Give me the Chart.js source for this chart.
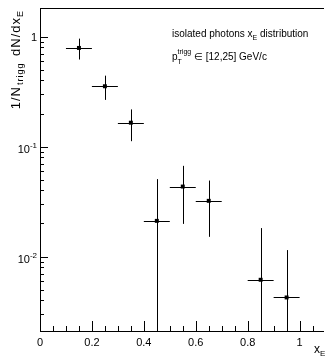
<!DOCTYPE html>
<html>
<head>
<meta charset="utf-8">
<script src="https://cdn.jsdelivr.net/npm/chart.js@4.4.1/dist/chart.umd.min.js"></script>
<style>
  html, body { margin: 0; padding: 0; background: #fff; overflow: hidden; }
  canvas { display: block; }
</style>
</head>
<body>
<canvas id="xeChart" width="328" height="357"></canvas>
<script>
// ---------- x_E distribution of isolated photons ---------- //
const xCenters   = [0.15, 0.25, 0.35, 0.45, 0.55, 0.65, 0.85, 0.95];
const xHalfWidth = [0.05, 0.05, 0.05, 0.05, 0.05, 0.05, 0.05, 0.05];
const yValues    = [0.79, 0.354, 0.165, 0.0211, 0.0433, 0.0321, 0.00614, 0.00424];
const yErrors    = [0.17, 0.088, 0.053, 0.0295, 0.0235, 0.017, 0.012, 0.0072];

const xTickValues = [0, 0.2, 0.4, 0.6, 0.8, 1];
const xTickLabels = ["0", "0.2", "0.4", "0.6", "0.8", "1"];
const xMinorStep  = 0.05;
const yTickValues = [1, 0.1, 0.01];
const yTickExpo   = ["", "-1", "-2"];

const X_MIN = 0, X_MAX = 1.094;
const Y_MIN = 0.0021, Y_MAX = 1.824;

const FONT = "'Liberation Sans', Arial, Helvetica, sans-serif";

// draws pieces of text one after the other; sub/sup shift the baseline
function drawRich(ctx, parts, x, y) {
  let cx = x;
  parts.forEach(p => {
    ctx.font = `${p.size}px ${FONT}`;
    ctx.fillText(p.t, cx, y + (p.dy || 0));
    cx += ctx.measureText(p.t).width + (p.gap || 0);
  });
  return cx - x;
}
function richWidth(ctx, parts) {
  let w = 0;
  parts.forEach(p => {
    ctx.font = `${p.size}px ${FONT}`;
    w += ctx.measureText(p.t).width + (p.gap || 0);
  });
  return w;
}

// ROOT style frame: axis lines, inward ticks, labels, titles, legend text
const rootFrame = {
  id: "rootFrame",
  beforeDatasetsDraw(chart) {
    const { ctx, chartArea: a, scales: { x, y } } = chart;
    ctx.save();
    ctx.strokeStyle = "#000";
    ctx.lineWidth = 1;
    ctx.beginPath();
    xCenters.forEach((xc, i) => {
      const px = Math.round(x.getPixelForValue(xc)) + 0.5;
      const py = Math.round(y.getPixelForValue(yValues[i])) + 0.5;
      const xl = x.getPixelForValue(xc - xHalfWidth[i]);
      const xr = x.getPixelForValue(xc + xHalfWidth[i]);
      const lo = yValues[i] - yErrors[i];
      const yTop = y.getPixelForValue(yValues[i] + yErrors[i]);
      const yBot = lo > Y_MIN ? y.getPixelForValue(lo) : a.bottom;
      ctx.moveTo(xl, py); ctx.lineTo(xr, py);
      ctx.moveTo(px, Math.max(yTop, a.top)); ctx.lineTo(px, yBot);
    });
    ctx.stroke();
    ctx.restore();
  },
  afterDraw(chart) {
    const { ctx, chartArea: a, scales: { x, y } } = chart;
    ctx.save();
    ctx.strokeStyle = "#000";
    ctx.fillStyle = "#000";
    ctx.lineWidth = 1;

    // frame: top, left axis, bottom axis
    ctx.beginPath();
    ctx.moveTo(a.left, a.top + 0.5); ctx.lineTo(a.right, a.top + 0.5);
    ctx.moveTo(a.left + 0.5, a.top); ctx.lineTo(a.left + 0.5, a.bottom);
    ctx.moveTo(a.left, a.bottom + 0.5); ctx.lineTo(a.right, a.bottom + 0.5);

    // x ticks (inward)
    for (let v = X_MIN; v <= X_MAX + 1e-9; v += xMinorStep) {
      const isMajor = xTickValues.some(t => Math.abs(t - v) < 1e-6);
      const px = Math.round(x.getPixelForValue(v)) + 0.5;
      ctx.moveTo(px, a.bottom); ctx.lineTo(px, a.bottom - (isMajor ? 10 : 5));
    }
    // y ticks (inward), decades long and 2..9 short
    for (let e = -3; e <= 0; e++) {
      for (let m = 1; m <= 9; m++) {
        const v = m * Math.pow(10, e);
        if (v < Y_MIN || v > Y_MAX) continue;
        const py = Math.round(y.getPixelForValue(v)) + 0.5;
        ctx.moveTo(a.left, py); ctx.lineTo(a.left + (m === 1 ? 8 : 4), py);
      }
    }
    ctx.stroke();

    // x tick labels
    ctx.font = `11px ${FONT}`;
    ctx.textAlign = "center";
    ctx.textBaseline = "alphabetic";
    xTickValues.forEach((v, i) => {
      ctx.fillText(xTickLabels[i], x.getPixelForValue(v), a.bottom + 15);
    });

    // y tick labels
    ctx.textAlign = "right";
    yTickValues.forEach((v, i) => {
      const py = y.getPixelForValue(v);
      if (yTickExpo[i] === "") {
        ctx.font = `11px ${FONT}`;
        ctx.fillText("1", a.left - 3, py + 4);
      } else {
        ctx.font = `8px ${FONT}`;
        ctx.fillText(yTickExpo[i], a.left - 3, py + 1);
        const ew = ctx.measureText(yTickExpo[i]).width;
        ctx.font = `11px ${FONT}`;
        ctx.fillText("10", a.left - 3 - ew, py + 6);
      }
    });

    // axis titles
    ctx.textAlign = "left";
    drawRich(ctx, [
      { t: "x", size: 12 },
      { t: "E", size: 8, dy: 3 }
    ], 314, 353);

    const yTitle = [
      { t: "1/N", size: 13, gap: 1 },
      { t: "trigg", size: 9, dy: 3, gap: 2 },
      { t: " dN/dx", size: 13 },
      { t: "E", size: 9, dy: 3 }
    ];
    ctx.save();
    ctx.letterSpacing = "1px";
    const tw = richWidth(ctx, yTitle);
    ctx.translate(20, a.top + 2 + tw);
    ctx.rotate(-Math.PI / 2);
    drawRich(ctx, yTitle, 0, 0);
    ctx.restore();

    // legend text
    drawRich(ctx, [
      { t: "isolated photons x", size: 10 },
      { t: "E", size: 7, dy: 3 },
      { t: " distribution", size: 10 }
    ], 172, 37);
    const pStart = 172;
    ctx.font = `10px ${FONT}`;
    ctx.fillText("p", pStart, 60);
    const pw = ctx.measureText("p").width;
    ctx.font = `7px ${FONT}`;
    ctx.fillText("T", pStart + pw, 64);
    ctx.fillText("trigg", pStart + pw, 54);
    const sw = ctx.measureText("trigg").width;
    ctx.font = `10px ${FONT}`;
    ctx.fillText(" \u2208 [12,25] GeV/c", pStart + pw + sw, 60);

    ctx.restore();
  }
};

const ctx = document.getElementById("xeChart").getContext("2d");
new Chart(ctx, {
  type: "scatter",
  data: {
    datasets: [{
      label: "isolated photons",
      data: xCenters.map((xc, i) => ({ x: xc, y: yValues[i] })),
      pointStyle: "rect",
      pointRadius: 2.8,
      pointBorderWidth: 0,
      backgroundColor: "#000",
      borderColor: "#000",
      showLine: false
    }]
  },
  options: {
    responsive: false,
    animation: false,
    devicePixelRatio: 1,
    layout: { padding: { left: 40, top: 8, right: 0, bottom: 26 } },
    scales: {
      x: { type: "linear", min: X_MIN, max: X_MAX, display: false },
      y: { type: "logarithmic", min: Y_MIN, max: Y_MAX, display: false }
    },
    plugins: {
      legend: { display: false },
      tooltip: { enabled: false }
    }
  },
  plugins: [rootFrame]
});
</script>
</body>
</html>
